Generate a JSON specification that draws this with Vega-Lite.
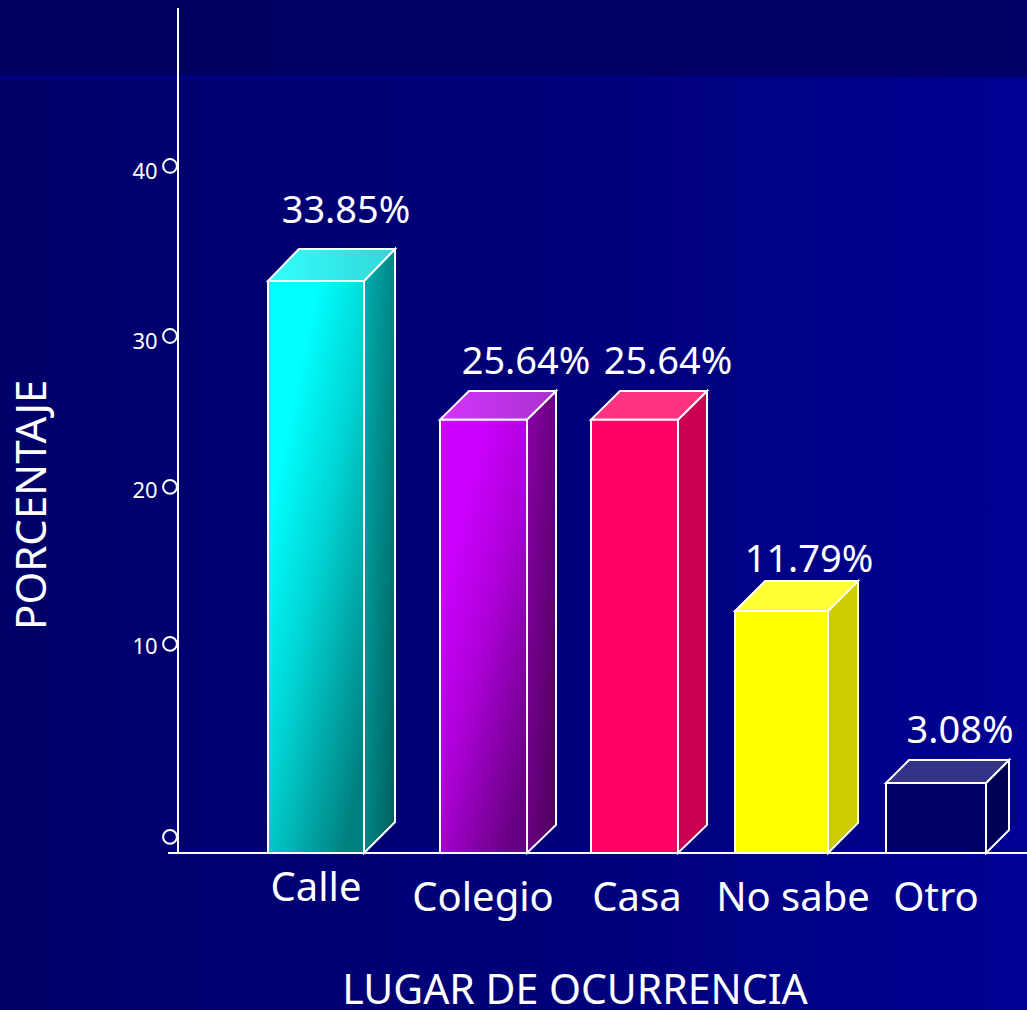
{
"$schema":"https://vega.github.io/schema/vega-lite/v6.json",
"width":1027,"height":1010,"padding":0,
"autosize":{"type":"none"},
"background":"#000066",
"config":{"view":{"stroke":null}},
"datasets":{
"fondo":[
{"cara":"fondo","x":0,"x2":1027,"y":50.47,"y2":-9.29},
{"cara":"banda","x":0,"x2":1027,"y":50.47,"y2":45.9},
{"cara":"franja","x":0,"x2":1027,"y":45.95,"y2":45.78}],
"ejes":[
{"eje":"vertical","x":178,"x2":178,"y":50.0,"y2":0},
{"eje":"horizontal","x":168,"x2":1027,"y":0,"y2":0}],
"lados":[
{"lugar":"Calle","cara":"Calle lado","x":364,"y":33.85,"y2":0},
{"lugar":"Calle","cara":"Calle lado","x":395,"y":35.74,"y2":1.83},
{"lugar":"Colegio","cara":"Colegio lado","x":527,"y":25.64,"y2":0},
{"lugar":"Colegio","cara":"Colegio lado","x":556,"y":27.34,"y2":1.66},
{"lugar":"Casa","cara":"Casa lado","x":678,"y":25.64,"y2":0},
{"lugar":"Casa","cara":"Casa lado","x":707,"y":27.34,"y2":1.66},
{"lugar":"No sabe","cara":"No sabe lado","x":828,"y":14.32,"y2":0},
{"lugar":"No sabe","cara":"No sabe lado","x":858,"y":16.09,"y2":1.78},
{"lugar":"Otro","cara":"Otro lado","x":986,"y":4.14,"y2":0},
{"lugar":"Otro","cara":"Otro lado","x":1009,"y":5.5,"y2":1.36}],
"tapas":[
{"lugar":"Calle","cara":"Calle tapa","x":268,"x2":364,"y":33.85},
{"lugar":"Calle","cara":"Calle tapa","x":299,"x2":395,"y":35.74},
{"lugar":"Colegio","cara":"Colegio tapa","x":440,"x2":527,"y":25.64},
{"lugar":"Colegio","cara":"Colegio tapa","x":469,"x2":556,"y":27.34},
{"lugar":"Casa","cara":"Casa tapa","x":591,"x2":678,"y":25.64},
{"lugar":"Casa","cara":"Casa tapa","x":620,"x2":707,"y":27.34},
{"lugar":"No sabe","cara":"No sabe tapa","x":735,"x2":828,"y":14.32},
{"lugar":"No sabe","cara":"No sabe tapa","x":765,"x2":858,"y":16.09},
{"lugar":"Otro","cara":"Otro tapa","x":886,"x2":986,"y":4.14},
{"lugar":"Otro","cara":"Otro tapa","x":909,"x2":1009,"y":5.5}],
"frentes":[
{"lugar":"Calle","cara":"Calle frente","x":268,"x2":364,"y":33.85,"y2":0},
{"lugar":"Colegio","cara":"Colegio frente","x":440,"x2":527,"y":25.64,"y2":0},
{"lugar":"Casa","cara":"Casa frente","x":591,"x2":678,"y":25.64,"y2":0},
{"lugar":"No sabe","cara":"No sabe frente","x":735,"x2":828,"y":14.32,"y2":0},
{"lugar":"Otro","cara":"Otro frente","x":886,"x2":986,"y":4.14,"y2":0}],
"marcas":[
{"tick":40,"x":170,"y":40.65},
{"tick":30,"x":170,"y":30.59},
{"tick":20,"x":170,"y":21.66},
{"tick":10,"x":170,"y":12.37},
{"tick":0,"x":170,"y":0.95}],
"marcasTexto":[
{"texto":"40","x":145,"y":39.88},
{"texto":"30","x":145,"y":29.83},
{"texto":"20","x":145,"y":21.0},
{"texto":"10","x":145,"y":11.75}],
"valores":[
{"texto":"33.85%","x":346,"y":37.26},
{"texto":"25.64%","x":526,"y":28.37},
{"texto":"25.64%","x":668,"y":28.37},
{"texto":"11.79%","x":809,"y":16.61},
{"texto":"3.08%","x":960,"y":6.51}],
"categorias":[
{"texto":"Calle","x":316,"y":-2.84},
{"texto":"Colegio","x":483,"y":-3.43},
{"texto":"Casa","x":637,"y":-3.43},
{"texto":"No sabe","x":793,"y":-3.43},
{"texto":"Otro","x":936,"y":-3.43}],
"tituloX":[{"texto":"LUGAR DE OCURRENCIA","x":575,"y":-8.93}],
"tituloY":[{"texto":"PORCENTAJE","x":46,"y":20.6}]
},
"encoding":{
"x":{"field":"x","type":"quantitative","axis":null,"scale":{"domain":[0,1027],"nice":false,"zero":false}},
"y":{"field":"y","type":"quantitative","axis":null,"scale":{"domain":[-9.29,50.47],"nice":false,"zero":false}}
},
"layer":[
{"data":{"name":"fondo"},"transform":[{"filter":"datum.cara==='fondo'"}],"mark":{"type":"rect","fill":{"gradient":"linear","x1":0,"y1":0,"x2":1,"y2":0,"stops":[{"offset":0,"color":"#00006a"},{"offset":0.55,"color":"#00007a"},{"offset":1,"color":"#000093"}]}},"encoding":{"x2":{"field":"x2"},"y2":{"field":"y2"}}},
{"data":{"name":"fondo"},"transform":[{"filter":"datum.cara==='banda'"}],"mark":{"type":"rect","fill":{"gradient":"linear","x1":0,"y1":0,"x2":1,"y2":0,"stops":[{"offset":0,"color":"#000060"},{"offset":1,"color":"#000066"}]}},"encoding":{"x2":{"field":"x2"},"y2":{"field":"y2"}}},
{"data":{"name":"fondo"},"transform":[{"filter":"datum.cara==='franja'"}],"mark":{"type":"rect","fill":"#00008c"},"encoding":{"x2":{"field":"x2"},"y2":{"field":"y2"}}},
{"data":{"name":"ejes"},"mark":{"type":"rule","stroke":"white","strokeWidth":2},"encoding":{"x2":{"field":"x2"},"y2":{"field":"y2"}}},

{"data":{"name":"lados"},"transform":[{"filter":"datum.lugar==='Calle'"}],"mark":{"type":"area","stroke":"white","strokeWidth":2,"line":false,"fill":{"gradient":"linear","x1":0,"y1":0,"x2":1,"y2":1,"stops":[{"offset":0,"color":"#00b0b0"},{"offset":1,"color":"#005c5c"}]}},"encoding":{"y2":{"field":"y2"}}},
{"data":{"name":"tapas"},"transform":[{"filter":"datum.lugar==='Calle'"}],"mark":{"type":"area","orient":"horizontal","stroke":"white","strokeWidth":2,"line":false,"fill":{"gradient":"linear","x1":0,"y1":0,"x2":1,"y2":0,"stops":[{"offset":0,"color":"#33ffff"},{"offset":1,"color":"#33d6d6"}]}},"encoding":{"x2":{"field":"x2"}}},
{"data":{"name":"frentes"},"transform":[{"filter":"datum.lugar==='Calle'"}],"mark":{"type":"rect","stroke":"white","strokeWidth":2,"fill":{"gradient":"linear","x1":0,"y1":0,"x2":0.8,"y2":1,"stops":[{"offset":0,"color":"#00ffff"},{"offset":0.25,"color":"#00ffff"},{"offset":0.55,"color":"#00d4d4"},{"offset":1,"color":"#007f7f"}]}},"encoding":{"x2":{"field":"x2"},"y2":{"field":"y2"}}},

{"data":{"name":"lados"},"transform":[{"filter":"datum.lugar==='Colegio'"}],"mark":{"type":"area","stroke":"white","strokeWidth":2,"line":false,"fill":{"gradient":"linear","x1":0,"y1":0,"x2":1,"y2":1,"stops":[{"offset":0,"color":"#8a00a8"},{"offset":1,"color":"#4a0059"}]}},"encoding":{"y2":{"field":"y2"}}},
{"data":{"name":"tapas"},"transform":[{"filter":"datum.lugar==='Colegio'"}],"mark":{"type":"area","orient":"horizontal","stroke":"white","strokeWidth":2,"line":false,"fill":{"gradient":"linear","x1":0,"y1":0,"x2":1,"y2":0,"stops":[{"offset":0,"color":"#d633ff"},{"offset":1,"color":"#a833cc"}]}},"encoding":{"x2":{"field":"x2"}}},
{"data":{"name":"frentes"},"transform":[{"filter":"datum.lugar==='Colegio'"}],"mark":{"type":"rect","stroke":"white","strokeWidth":2,"fill":{"gradient":"linear","x1":0,"y1":0,"x2":0.8,"y2":1,"stops":[{"offset":0,"color":"#cc00ff"},{"offset":0.25,"color":"#cc00ff"},{"offset":0.55,"color":"#ad00d8"},{"offset":1,"color":"#660080"}]}},"encoding":{"x2":{"field":"x2"},"y2":{"field":"y2"}}},

{"data":{"name":"lados"},"transform":[{"filter":"datum.lugar!=='Calle' && datum.lugar!=='Colegio'"}],"mark":{"type":"area","stroke":"white","strokeWidth":2,"line":false},"encoding":{"y2":{"field":"y2"},"fill":{"field":"cara","type":"nominal","legend":null,"scale":{"domain":["Casa frente","Casa lado","Casa tapa","No sabe frente","No sabe lado","No sabe tapa","Otro frente","Otro lado","Otro tapa"],"range":["#ff0066","#cc0052","#ff3380","#ffff00","#cccc00","#ffff33","#000066","#000055","#333388"]}}}},
{"data":{"name":"tapas"},"transform":[{"filter":"datum.lugar!=='Calle' && datum.lugar!=='Colegio'"}],"mark":{"type":"area","orient":"horizontal","stroke":"white","strokeWidth":2,"line":false},"encoding":{"x2":{"field":"x2"},"fill":{"field":"cara","type":"nominal","legend":null,"scale":{"domain":["Casa frente","Casa lado","Casa tapa","No sabe frente","No sabe lado","No sabe tapa","Otro frente","Otro lado","Otro tapa"],"range":["#ff0066","#cc0052","#ff3380","#ffff00","#cccc00","#ffff33","#000066","#000055","#333388"]}}}},
{"data":{"name":"frentes"},"transform":[{"filter":"datum.lugar!=='Calle' && datum.lugar!=='Colegio'"}],"mark":{"type":"rect","stroke":"white","strokeWidth":2},"encoding":{"x2":{"field":"x2"},"y2":{"field":"y2"},"fill":{"field":"cara","type":"nominal","legend":null,"scale":{"domain":["Casa frente","Casa lado","Casa tapa","No sabe frente","No sabe lado","No sabe tapa","Otro frente","Otro lado","Otro tapa"],"range":["#ff0066","#cc0052","#ff3380","#ffff00","#cccc00","#ffff33","#000066","#000055","#333388"]}}}},

{"data":{"name":"marcas"},"mark":{"type":"point","shape":"circle","filled":false,"size":190,"stroke":"white","strokeWidth":2,"opacity":1}},
{"data":{"name":"marcasTexto"},"mark":{"type":"text","font":"Noto Sans","fontSize":22,"fill":"white","align":"center","baseline":"alphabetic"},"encoding":{"text":{"field":"texto"}}},
{"data":{"name":"valores"},"mark":{"type":"text","font":"Noto Sans","fontSize":38,"fill":"white","align":"center","baseline":"alphabetic"},"encoding":{"text":{"field":"texto"}}},
{"data":{"name":"categorias"},"mark":{"type":"text","font":"Noto Sans","fontSize":40,"fill":"white","align":"center","baseline":"alphabetic"},"encoding":{"text":{"field":"texto"}}},
{"data":{"name":"tituloX"},"mark":{"type":"text","font":"Noto Sans","fontSize":41,"fill":"white","align":"center","baseline":"alphabetic"},"encoding":{"text":{"field":"texto"}}},
{"data":{"name":"tituloY"},"mark":{"type":"text","font":"Noto Sans","fontSize":42,"fill":"white","angle":270,"align":"center","baseline":"alphabetic"},"encoding":{"text":{"field":"texto"}}}
]
}
